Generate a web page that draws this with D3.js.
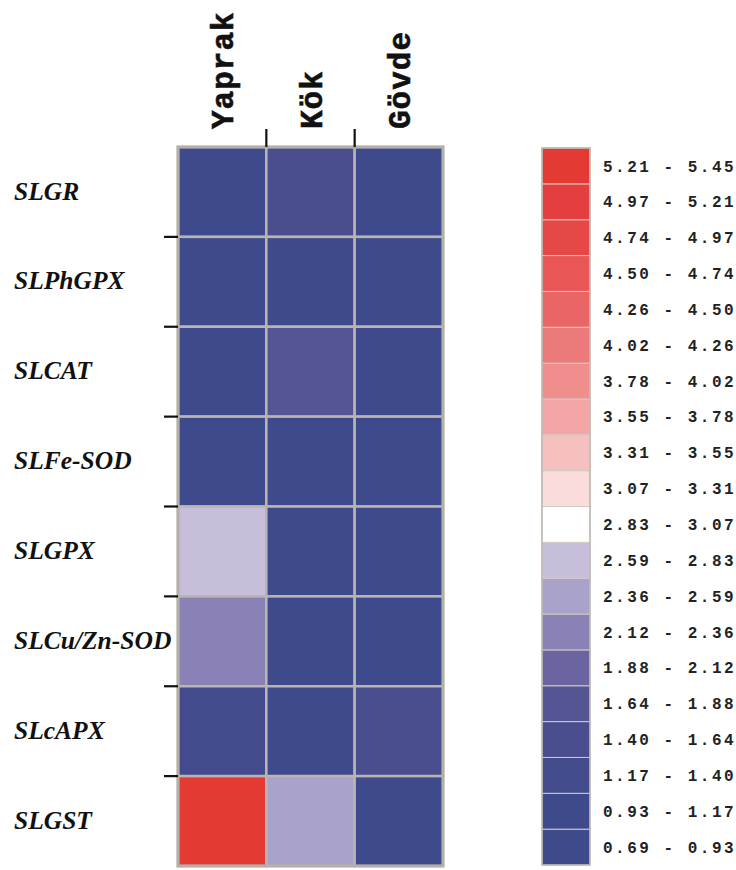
<!DOCTYPE html>
<html>
<head>
<meta charset="utf-8">
<script src="https://cdn.jsdelivr.net/npm/d3@7"></script>
<style>
  body { margin: 0; background: #fff; }
</style>
</head>
<body>
<div id="container"></div>
<script>
// data
const genes = ["SLGR", "SLPhGPX", "SLCAT", "SLFe-SOD", "SLGPX", "SLCu/Zn-SOD", "SLcAPX", "SLGST"];
const tissues = ["Yaprak", "Kök", "Gövde"];
const yaprak = [0.90, 0.85, 1.00, 0.90, 2.70, 2.22, 1.25, 5.35];
const kok    = [1.50, 0.85, 1.75, 0.90, 0.90, 0.90, 0.90, 2.45];
const govde  = [1.05, 0.90, 1.00, 0.90, 0.90, 0.90, 1.50, 0.90];
const breaks = ["0.69", "0.93", "1.17", "1.40", "1.64", "1.88", "2.12", "2.36", "2.59", "2.83",
                "3.07", "3.31", "3.55", "3.78", "4.02", "4.26", "4.50", "4.74", "4.97", "5.21", "5.45"];

// bin colours, low -> high
const palette = [
  "#3e4a8c", "#3f4a8c", "#434b8c", "#4a4e8e", "#555593", "#6a64a0", "#8a82b6", "#a9a2ca",
  "#c6bedb", "#ffffff", "#fbdcdc", "#f7c0c0", "#f4a6a6", "#f08e8e", "#ed7a7a", "#ea6666",
  "#e85656", "#e64848", "#e53e3e", "#e43a33"
];

const WIDTH = 736;
const HEIGHT = 870;

const svg = d3.select("#container")
  .append("svg")
  .attr("width", WIDTH)
  .attr("height", HEIGHT);

const x = d3.scaleBand().domain(tissues).range([178, 443]);
const y = d3.scaleBand().domain(genes).range([147, 866]);

const color = d3.scaleThreshold()
  .domain(breaks.slice(1, -1).map(Number))
  .range(palette);

const cells = [];
genes.forEach((g, i) => {
  cells.push({ gene: g, tissue: "Yaprak", v: yaprak[i] });
  cells.push({ gene: g, tissue: "Kök", v: kok[i] });
  cells.push({ gene: g, tissue: "Gövde", v: govde[i] });
});

// heatmap cells
svg.append("g")
  .selectAll("rect")
  .data(cells)
  .enter()
  .append("rect")
  .attr("x", d => x(d.tissue))
  .attr("y", d => y(d.gene))
  .attr("width", x.bandwidth())
  .attr("height", y.bandwidth())
  .attr("fill", d => color(d.v))
  .attr("stroke", "#bab5b0")
  .attr("stroke-width", 2.5);

svg.append("rect")
  .attr("x", x.range()[0])
  .attr("y", y.range()[0])
  .attr("width", x.range()[1] - x.range()[0])
  .attr("height", y.range()[1] - y.range()[0])
  .attr("fill", "none")
  .attr("stroke", "#b4afa9")
  .attr("stroke-width", 3);

// ticks at band boundaries (inner ones only)
svg.append("g")
  .selectAll("line")
  .data(tissues.slice(1))
  .enter()
  .append("line")
  .attr("x1", d => x(d)).attr("x2", d => x(d))
  .attr("y1", 129).attr("y2", 147)
  .attr("stroke", "#111").attr("stroke-width", 2.2);

svg.append("g")
  .selectAll("line")
  .data(genes.slice(1))
  .enter()
  .append("line")
  .attr("x1", 164).attr("x2", 178)
  .attr("y1", d => y(d)).attr("y2", d => y(d))
  .attr("stroke", "#111").attr("stroke-width", 2.2);

// column labels
svg.append("g")
  .selectAll("text")
  .data(tissues)
  .enter()
  .append("text")
  .attr("transform", d => "translate(" + (x(d) + x.bandwidth() / 2 + 11) + ",129) rotate(-90)")
  .attr("font-family", "'Liberation Mono', 'Courier New', monospace")
  .attr("font-weight", "bold")
  .attr("font-size", 31)
  .attr("letter-spacing", 1)
  .attr("fill", "#111")
  .attr("stroke", "#111")
  .attr("stroke-width", 0.6)
  .text(d => d);

// row labels
svg.append("g")
  .selectAll("text")
  .data(genes)
  .enter()
  .append("text")
  .attr("x", 14)
  .attr("y", d => y(d) + y.bandwidth() / 2)
  .attr("dy", "0.3em")
  .attr("font-family", "'Liberation Serif', 'Times New Roman', serif")
  .attr("font-weight", "bold")
  .attr("font-style", "italic")
  .attr("font-size", 25.5)
  .attr("fill", "#111")
  .text(d => d);

// legend
const bins = breaks.slice(0, -1).map((b, i) => ({ lo: b, hi: breaks[i + 1], i: i }));
const ly = d3.scaleBand()
  .domain(d3.range(bins.length).reverse())
  .range([148, 865]);

const legend = svg.append("g");

legend.selectAll("rect")
  .data(bins)
  .enter()
  .append("rect")
  .attr("x", 542)
  .attr("y", d => ly(d.i))
  .attr("width", 48)
  .attr("height", ly.bandwidth())
  .attr("fill", d => palette[d.i])
  .attr("stroke", "#d2cac2")
  .attr("stroke-width", 1);

legend.append("rect")
  .attr("x", 542).attr("y", 148)
  .attr("width", 48).attr("height", 717)
  .attr("fill", "none")
  .attr("stroke", "#bdb7b0")
  .attr("stroke-width", 1.5);

legend.selectAll("text")
  .data(bins)
  .enter()
  .append("text")
  .attr("x", 603)
  .attr("y", d => ly(d.i) + ly.bandwidth() / 2)
  .attr("dy", "0.35em")
  .attr("font-family", "'Liberation Mono', 'Courier New', monospace")
  .attr("font-weight", "bold")
  .attr("font-size", 16)
  .attr("letter-spacing", 2.5)
  .attr("fill", "#222")
  .text(d => d.lo + " - " + d.hi);
</script>
</body>
</html>
